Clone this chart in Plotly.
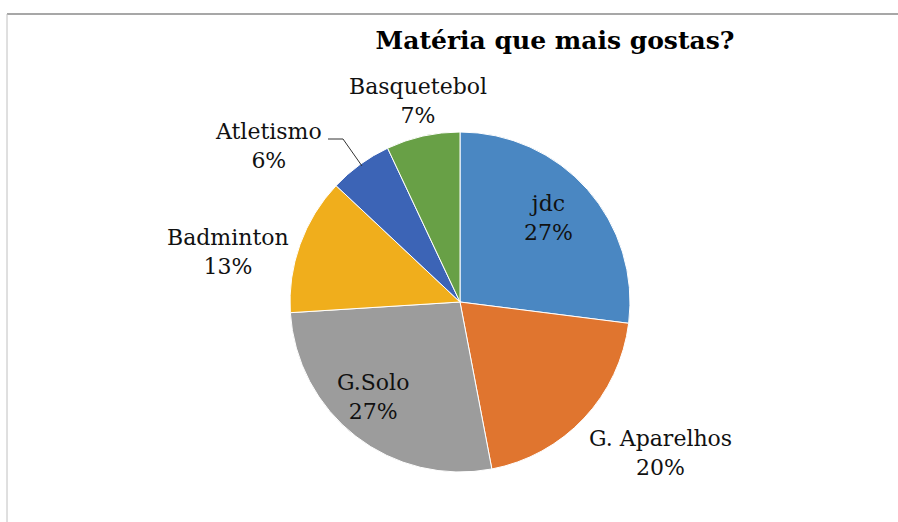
import plotly.graph_objects as go

# Survey data: favourite subject
categories = ["jdc", "G. Aparelhos", "G.Solo", "Badminton", "Atletismo", "Basquetebol"]
values = [27, 20, 27, 13, 6, 7]
colors = ["#4a87c2", "#e0752f", "#9c9c9c", "#f0ae1c", "#3c64b6", "#68a046"]

W, H = 898, 522
cx, cy, r = 460, 302, 170  # pie centre / radius in pixels

fig = go.Figure()
fig.add_trace(go.Pie(
    labels=categories,
    values=values,
    sort=False,
    direction="clockwise",
    rotation=0,
    marker=dict(colors=colors, line=dict(color="white", width=1)),
    textinfo="none",
    hoverinfo="label+percent",
    showlegend=False,
    domain=dict(x=[(cx - r) / W, (cx + r) / W],
                y=[1 - (cy + r) / H, 1 - (cy - r) / H]),
))

total = sum(values)
pct = {c: f"{round(v * 100 / total)}%" for c, v in zip(categories, values)}

# label positions (pixels) for each category
label_pos = {
    "jdc": (548, 218),
    "G. Aparelhos": (660, 453),
    "G.Solo": (373, 397),
    "Badminton": (228, 252),
    "Atletismo": (268, 146),
    "Basquetebol": (418, 101),
}

font = dict(family="DejaVu Serif, serif", size=22, color="#111111")
for c in categories:
    x, y = label_pos[c]
    fig.add_annotation(
        x=x / W, y=1 - y / H, xref="paper", yref="paper",
        text=f"{c}<br>{pct[c]}", showarrow=False, font=font,
        align="center", xanchor="center", yanchor="middle",
    )

# leader line for Atletismo
fig.add_shape(type="path",
              path=f"M {328/W} {1-139/H} L {343/W} {1-139/H} L {362/W} {1-166/H}",
              xref="paper", yref="paper", line=dict(color="#333333", width=1))

# chart area frame
fig.add_shape(type="line", xref="paper", yref="paper",
              x0=7 / W, x1=1, y0=1 - 14 / H, y1=1 - 14 / H,
              line=dict(color="#8a8a8a", width=1.5))
fig.add_shape(type="line", xref="paper", yref="paper",
              x0=7 / W, x1=7 / W, y0=0, y1=1 - 14 / H,
              line=dict(color="#c0c0c0", width=1))

fig.update_layout(
    width=W, height=H,
    margin=dict(l=0, r=0, t=0, b=0),
    paper_bgcolor="white",
    plot_bgcolor="white",
    title=dict(text="<b>Matéria que mais gostas?</b>",
               x=555 / W, xanchor="center", y=1 - 40 / H, yanchor="middle",
               font=dict(family="DejaVu Serif, serif", size=25, color="#000000")),
)

fig.write_html("out.html")
